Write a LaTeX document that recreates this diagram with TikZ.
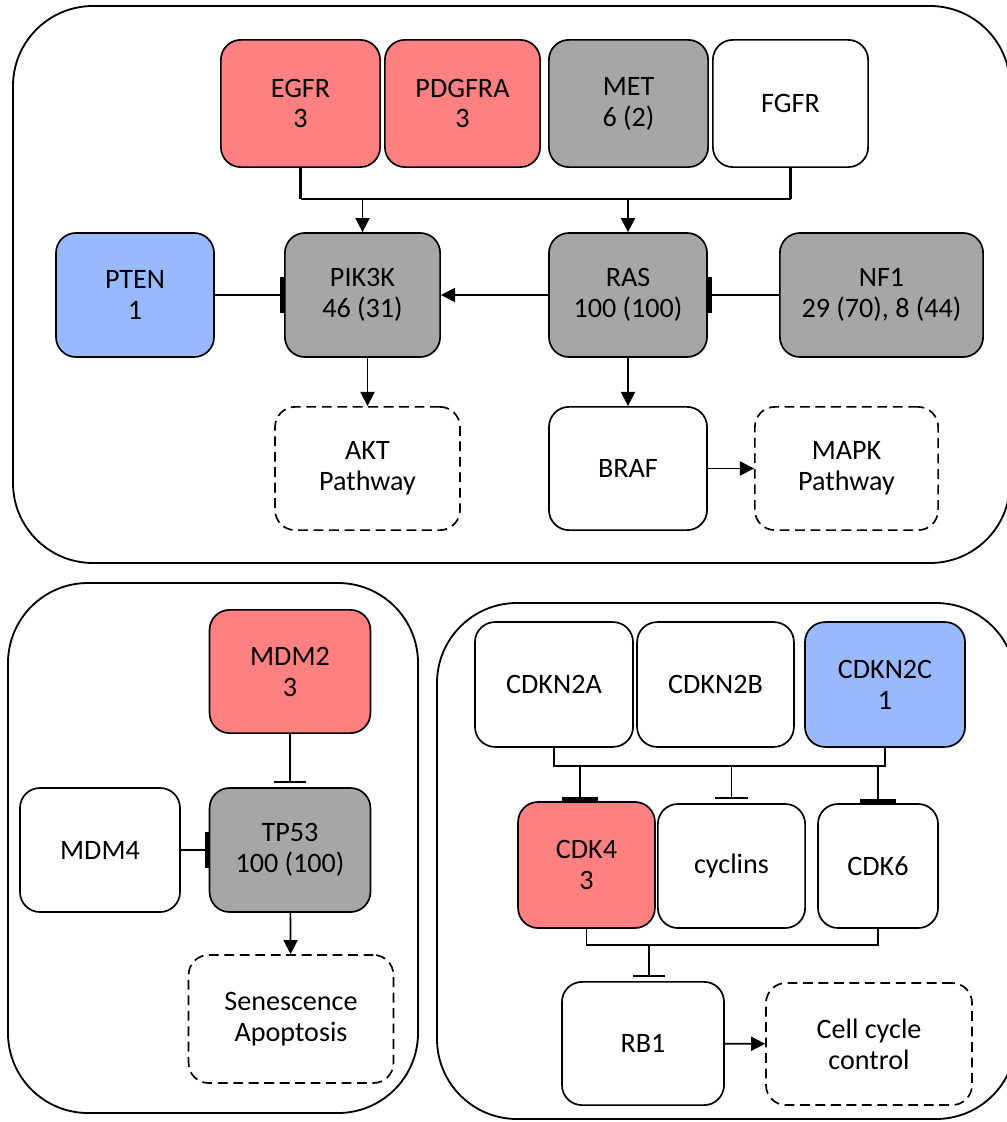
\documentclass[tikz,border=0pt]{standalone}
\usepackage{fontspec}
\setmainfont{Carlito}
\usetikzlibrary{arrows.meta}
\definecolor{genered}{RGB}{255,128,128}
\definecolor{genegrey}{RGB}{166,166,166}
\definecolor{geneblue}{RGB}{153,185,255}
\tikzset{
  gene/.style={draw,line width=1.2pt,rounded corners=0.5cm,align=center,inner sep=2pt,
    minimum width=3.95cm,minimum height=3.1cm,font=\fontsize{20}{22}\selectfont},
  pathway/.style={gene,dash pattern=on 7pt off 4pt},
  panel/.style={draw,line width=1.3pt,rounded corners=2cm},
  bus/.style={line width=1.2pt},
  thickbus/.style={line width=2.8pt},
  arr/.style={line width=1.2pt,-{Triangle[length=10pt,width=10pt]}},
  inh/.style={line width=1.2pt,-{Bar[width=25pt,line width=3pt]}},
  inhgap/.style={line width=1.2pt,-{Bar[width=23pt,line width=1.4pt]},shorten >=3pt}
}
\def\rednode{\node[gene,fill=genered]}
\def\greynode{\node[gene,fill=genegrey]}
\def\bluenode{\node[gene,fill=geneblue]}
\def\whitenode{\node[gene]}
\def\pathnode{\node[pathway]}

\begin{document}
\begin{tikzpicture}[x=0.025cm,y=-0.025cm]
\useasboundingbox (0,0) rectangle (1006,1122);
% panels
\draw[panel] (13,6) rectangle (1010,563);
\draw[panel] (8,583) rectangle (418,1113);
\draw[panel] (437,603) rectangle (1016,1119);

% growth factor receptors
\rednode (EGFR) [minimum width=3.98cm,minimum height=3.18cm] at (300.5,103.5) {EGFR\\3};
\rednode (PDGFRA) [minimum width=3.88cm,minimum height=3.18cm] at (462.5,103.5) {PDGFRA\\3};
\greynode (MET) [minimum width=3.98cm,minimum height=3.18cm] at (628.5,103.5) {MET\\6 (2)};
\whitenode (FGFR) [minimum width=3.88cm,minimum height=3.18cm] at (790.5,103.5) {FGFR};
\bluenode (PTEN) at (135,295) {PTEN\\1};
\greynode (PIK3K) [minimum width=3.88cm] at (362.5,295) {PIK3K\\46 (31)};
\greynode (RAS) at (628,295) {RAS\\100 (100)};
\greynode (NF1) [minimum width=5.08cm] at (881.5,295) {NF1\\29 (70), 8 (44)};
\pathnode (AKT) [minimum width=4.62cm,minimum height=3.08cm] at (367.5,468.5) {AKT\\Pathway};
\whitenode (BRAF) [minimum height=3.08cm] at (628,468.5) {BRAF};
\pathnode (MAPK) [minimum width=4.58cm,minimum height=3.08cm] at (846.5,468.5) {MAPK\\Pathway};

\coordinate (rtkbus) at (0,199);
\draw[thickbus] (EGFR.south) -- (EGFR.south |- rtkbus);
\draw[thickbus] (FGFR.south) -- (FGFR.south |- rtkbus);
\draw[bus] (EGFR.south |- rtkbus) -- (FGFR.south |- rtkbus);
\draw[arr] (PIK3K.north |- rtkbus) -- (PIK3K.north);
\draw[arr] (RAS.north |- rtkbus) -- (RAS.north);
\draw[inh] (PTEN) -- (PIK3K);
\draw[arr] (RAS) -- (PIK3K);
\draw[inh] (NF1) -- (RAS);
\draw[arr] (AKT.north |- PIK3K.south) -- (AKT.north);
\draw[arr] (RAS) -- (BRAF);
\draw[arr] (BRAF) -- (MAPK);

% p53 pathway
\rednode (MDM2) [minimum width=4.02cm,minimum height=3.08cm] at (290,671.5) {MDM2\\3};
\whitenode (MDM4) [minimum width=4cm] at (100,850) {MDM4};
\greynode (TP53) [minimum width=4.02cm] at (290,850) {TP53\\100 (100)};
\pathnode (SEN) [minimum width=5.12cm,minimum height=3.2cm] at (291,1019) {Senescence\\Apoptosis};
\draw[inhgap] (MDM2) -- (TP53);
\draw[inh] (MDM4) -- (TP53);
\draw[arr] (TP53) -- (SEN);

% cell cycle
\whitenode (CDKN2A) [minimum height=3.12cm] at (554,684.5) {CDKN2A};
\whitenode (CDKN2B) [minimum width=3.92cm,minimum height=3.12cm] at (715.5,684.5) {CDKN2B};
\bluenode (CDKN2C) [minimum width=4cm,minimum height=3.12cm] at (885,684.5) {CDKN2C\\1};
\rednode (CDK4) [minimum width=3.42cm,minimum height=3.15cm] at (586.5,865) {CDK4\\3};
\whitenode (cyclins) [minimum width=3.68cm] at (731.5,866) {cyclins};
\whitenode (CDK6) [minimum width=3cm] at (878,866) {CDK6};
\whitenode (RB1) [minimum width=4.05cm,minimum height=3.08cm] at (643,1043.5) {RB1};
\pathnode (CELL) [minimum width=5.15cm,minimum height=3.05cm] at (869,1044) {Cell cycle\\control};

\coordinate (cdknbus) at (0,766);
\coordinate (cdk4in) at (580,766);
\draw[bus] (CDKN2A.south) |- (CDKN2C.south |- cdknbus) -- (CDKN2C.south);
\draw[inh] (cdk4in) -- (cdk4in |- CDK4.north);
\draw[inhgap] (cyclins.north |- cdknbus) -- (cyclins.north);
\draw[inh] (CDK6.north |- cdknbus) -- (CDK6.north);

\coordinate (cdkbus) at (0,945);
\coordinate (rb1in) at (649,945);
\draw[bus] (CDK4.south) |- (CDK6.south |- cdkbus) -- (CDK6.south);
\draw[inhgap] (rb1in) -- (rb1in |- RB1.north);
\draw[arr] (RB1) -- (CELL);
\end{tikzpicture}
\end{document}
